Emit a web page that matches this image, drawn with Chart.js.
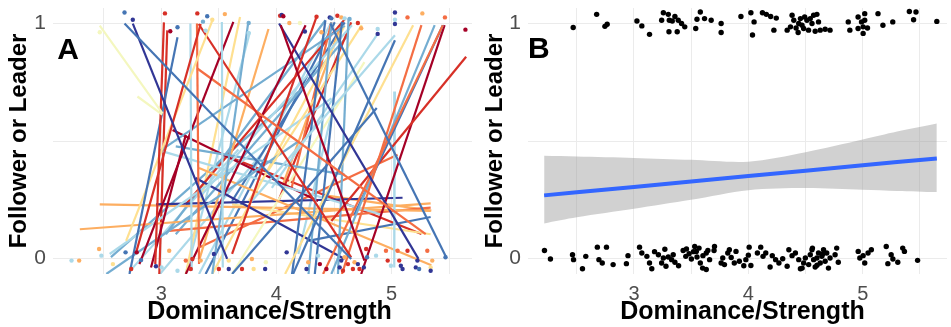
<!DOCTYPE html>
<html>
<head>
<meta charset="utf-8">
<script src="https://cdn.jsdelivr.net/npm/chart.js@4.4.1/dist/chart.umd.min.js"></script>
<style>
  html, body { margin: 0; padding: 0; background: #fff; }
  #wrap { position: relative; width: 951px; height: 327px; }
  #chartA { position: absolute; left: 0; top: 0; }
  #chartB { position: absolute; left: 476px; top: 0; }
</style>
</head>
<body>
<div id="wrap">
  <canvas id="chartA" width="476" height="327"></canvas>
  <canvas id="chartB" width="475" height="327"></canvas>
</div>
<script>
// RdYlBu colours, one per individual group
const palette = ['#a50026', '#d73027', '#f46d43', '#fdae61', '#fee090', '#f4f7bf',
                 '#e0f3f8', '#abd9e9', '#74add1', '#4575b4', '#313695'];

// Panel A: per-individual fitted lines (start x/y, end x/y, group)
const segX1 = [2.466, 2.793, 2.681, 2.753, 3.023, 3.141, 2.782, 2.911, 3.443, 3.310, 3.253, 3.526, 3.325, 3.626, 3.310, 3.756,
               4.037, 4.253, 4.348, 4.023, 4.468, 5.029, 4.871, 5.029, 5.187, 5.259, 5.445, 5.374, 5.445, 5.647, 5.460, 5.029,
               4.425, 4.477, 4.569, 4.626, 4.592, 4.655, 4.741, 4.879, 2.552, 2.523, 3.328, 3.011, 3.126, 3.299, 3.098, 3.443,
               3.615, 3.931, 4.276, 2.954, 2.293, 2.466, 3.069, 3.615, 4.190, 4.132, 3.213, 4.017, 4.046, 3.126, 3.615, 3.328,
               3.052, 3.684, 3.770, 4.425, 4.506, 3.615, 4.454, 3.328, 2.563, 2.721, 2.980];
const segY1 = [0.990, 0.689, 0.999, 0.999, 1.004, 0.941, 0.027, -0.037, 1.011, 0.999, 0.999, 1.006, 0.997, 1.006, 0.809, 1.006,
               0.992, 0.992, 1.027, 0.999, 0.999, 0.928, 0.640, 0.949, 0.992, 0.992, 0.992, 0.992, 0.992, 0.858, 0.992, 0.710,
               1.013, 1.004, 1.006, 1.020, 0.990, 0.992, 0.992, 0.955, 0.020, -0.065, 0.385, 0.456, 0.477, 0.343, 0.547, -0.065,
               -0.065, 0.976, 0.076, 0.231, 0.125, 0.231, 0.118, 0.231, 0.020, 0.301, 0.231, 0.245, 0.301, 0.104, 0.245, -0.065,
               0.970, 1.027, 0.963, 1.013, 1.004, 0.428, 0.267, 0.048, 0.007, -0.056, -0.070];
const segX2 = [3.011, 3.009, 4.649, 3.572, 2.948, 2.724, 3.342, 3.213, 2.695, 3.328, 3.264, 3.534, 4.649, 2.810, 5.296, 3.443,
               4.764, 3.213, 3.615, 5.233, 5.474, 4.132, 3.615, 3.787, 4.075, 4.569, 4.405, 4.477, 4.678, 4.477, 4.736, 5.023,
               4.132, 4.276, 4.333, 4.534, 2.983, 3.328, 3.759, 3.960, 4.477, 4.190, 5.345, 4.908, 4.592, 4.592, 4.362, 4.592,
               4.764, 3.328, 5.339, 5.095, 5.339, 5.339, 5.339, 5.339, 4.477, 4.477, 4.598, 4.649, 4.563, 4.621, 4.592, 4.477,
               2.983, 3.213, 3.213, 3.040, 3.385, 5.259, 5.345, 5.052, 4.190, 3.670, 3.879];
const segY2 = [0.617, 0.612, -0.001, -0.001, -0.023, -0.065, 0.997, 0.526, 0.076, -0.023, -0.051, -0.037, 0.006, -0.023, 0.104, -0.065,
               -0.008, -0.065, 0.020, -0.001, 0.006, -0.079, -0.065, 0.245, -0.065, -0.065, -0.065, -0.065, 0.188, 0.160, -0.065, -0.037,
               -0.079, -0.079, -0.065, -0.065, 0.456, 0.259, 0.245, 0.301, 0.681, 0.498, -0.028, 0.188, 0.357, -0.001, 0.245, 0.990,
               0.835, -0.008, 0.177, 0.259, 0.235, 0.203, 0.217, 0.104, 0.610, 1.004, 1.020, 1.004, 0.997, 0.948, 1.004, 1.004,
               -0.065, -0.065, -0.065, 0.104, -0.065, 0.105, 0.204, 0.442, 0.709, 0.464, 0.450];
const segGroup = [5, 5, 9, 10, 1, 9, 1, 0, 4, 2, 7, 7, 1, 0, 2, 8,
                  0, 0, 1, 10, 9, 9, 9, 7, 4, 2, 2, 8, 9, 1, 0, 7,
                  9, 8, 9, 8, 8, 7, 4, 7, 7, 8, 3, 7, 8, 10, 0, 4,
                  5, 3, 9, 10, 3, 3, 2, 4, 7, 2, 1, 1, 3, 8, 9, 7,
                  1, 4, 7, 8, 9, 1, 3, 2, 8, 7, 7];

// Panel A: observed choices (0 = follower, 1 = leader), jittered
const dotX = [2.681, 2.753, 3.032, 3.078, 3.141, 3.313, 3.399, 3.362, 3.385, 3.552, 3.443, 3.759, 3.759, 4.032, 4.046, 4.060,
              4.112, 4.204, 4.247, 4.348, 4.391, 4.463, 4.477, 4.529, 4.563, 4.592, 4.635, 4.707, 4.736, 4.879, 4.879, 5.029,
              5.029, 5.029, 5.138, 5.267, 5.463, 5.641, 2.466,
              2.221, 2.287, 2.460, 2.480, 2.580, 2.690, 2.739, 2.787, 2.825, 2.954, 3.003, 3.069, 3.141, 3.213, 3.256, 3.270,
              3.342, 3.457, 3.500, 3.586, 3.586, 3.701, 3.787, 3.802, 3.902, 3.908, 4.089, 4.261, 4.276, 4.362, 4.377, 4.434,
              4.549, 4.563, 4.578, 4.592, 4.621, 4.664, 4.678, 4.707, 4.721, 4.759, 4.779, 4.787, 4.865, 4.951, 4.966, 4.994,
              5.052, 5.066, 5.080, 5.095, 5.138, 5.210, 5.224, 5.239, 5.310, 5.339, 5.353, 5.339, 5.468];
const dotY = [1.046, 1.015, 1.042, 0.966, 0.983, 1.042, 1.030, 1.007, 0.969, 1.039, 1.015, 1.001, 0.959, 1.032, 1.035, 1.030,
              1.001, 1.001, 0.965, 1.028, 0.962, 1.025, 1.021, 1.032, 1.025, 1.021, 1.018, 1.001, 0.979, 0.976, 0.955, 1.046,
              1.015, 0.997, 1.025, 1.042, 1.025, 0.973, 0.962,
              -0.008, -0.008, 0.041, 0.013, -0.023, 0.027, -0.044, 0.027, -0.006, -0.032, -0.037, 0.034, -0.051, -0.008, -0.044, -0.001,
              -0.008, 0.020, -0.044, -0.008, -0.044, -0.044, -0.001, -0.044, -0.044, -0.015, 0.027, -0.044, -0.015, 0.013, -0.023, -0.044,
              -0.037, -0.008, -0.051, 0.006, -0.023, -0.044, -0.015, -0.023, -0.044, -0.037, 0.041, 0.006, 0.013, 0.034, -0.008, -0.030,
              0.034, -0.008, -0.030, -0.044, 0.034, -0.037, -0.008, -0.044, 0.034, -0.037, -0.008, -0.051, 0.006];
const dotGroup = [9, 10, 1, 0, 9, 1, 9, 8, 7, 3, 4, 8, 7, 1, 10, 0,
                  3, 5, 10, 1, 3, 10, 9, 1, 3, 7, 8, 1, 3, 7, 10, 10,
                  7, 10, 2, 3, 2, 0, 5,
                  7, 3, 3, 7, 4, 9, 1, 0, 9, 10, 7, 3, 7, 2, 1, 1,
                  3, 10, 1, 4, 10, 1, 3, 4, 10, 5, 10, 10, 3, 7, 0, 0,
                  10, 10, 1, 3, 1, 1, 3, 10, 1, 10, 1, 9, 7, 2, 1, 7,
                  2, 1, 10, 10, 1, 10, 10, 9, 2, 4, 3, 10, 9];

// Panel B: pooled observations
const leaderX = [2.469, 2.674, 2.746, 2.766, 3.026, 3.069, 3.136, 3.257, 3.300, 3.242, 3.309, 3.335, 3.358, 3.387, 3.416, 3.444,
                 3.306, 3.378, 3.540, 3.551, 3.580, 3.617, 3.675, 3.762, 3.762, 3.935, 4.022, 4.050, 4.036, 4.123, 4.157, 4.195,
                 4.244, 4.223, 4.382, 4.397, 4.368, 4.339, 4.417, 4.435, 4.455, 4.492, 4.512, 4.541, 4.570, 4.599, 4.556, 4.483,
                 4.526, 4.584, 4.613, 4.628, 4.671, 4.714, 4.440, 4.469, 4.873, 4.887, 4.959, 4.989, 5.003, 5.017, 5.017, 4.959,
                 5.003, 5.041, 5.133, 5.176, 5.262, 5.407, 5.465, 5.444, 5.647];
const leaderY = [0.982, 1.038, 0.987, 0.996, 1.010, 0.989, 0.953, 1.045, 1.038, 1.013, 1.013, 1.010, 1.029, 1.013, 0.999, 0.985,
                 0.964, 0.964, 0.978, 1.017, 1.048, 1.020, 1.013, 0.999, 0.961, 1.029, 1.045, 1.006, 0.950, 1.045, 1.038, 1.029,
                 1.022, 0.971, 1.034, 1.013, 0.985, 0.971, 0.980, 0.961, 1.020, 1.027, 1.013, 1.020, 1.034, 1.038, 0.999, 0.978,
                 0.971, 0.966, 1.006, 0.971, 0.975, 0.971, 0.999, 0.992, 1.006, 0.971, 1.027, 1.006, 0.985, 1.041, 1.013, 0.978,
                 0.957, 0.980, 1.041, 0.992, 1.006, 1.050, 1.048, 1.015, 1.008];
const followerX = [2.218, 2.270, 2.463, 2.472, 2.550, 2.579, 2.680, 2.694, 2.723, 2.760, 2.818, 2.934, 2.948, 3.049, 3.069, 3.113,
                   3.136, 3.156, 3.214, 3.242, 3.257, 3.280, 3.300, 3.329, 3.343, 3.358, 3.430, 3.453, 3.459, 3.482, 3.502, 3.531,
                   3.545, 3.551, 3.569, 3.580, 3.603, 3.632, 3.646, 3.632, 3.661, 3.704, 3.762, 3.776, 3.791, 3.820, 3.834, 3.877,
                   3.892, 3.921, 3.978, 4.007, 4.022, 4.079, 4.108, 4.128, 4.152, 4.209, 4.238, 4.267, 4.339, 4.354, 4.382, 4.411,
                   4.440, 4.455, 4.483, 4.498, 4.527, 4.541, 4.556, 4.570, 4.584, 4.599, 4.613, 4.628, 4.642, 4.657, 4.671, 4.685,
                   4.714, 4.758, 4.772, 4.786, 4.960, 4.974, 5.003, 5.017, 5.046, 5.075, 5.205, 5.219, 5.248, 5.263, 5.306, 5.349,
                   5.364, 5.479,
                   3.390, 3.520, 3.600, 3.700, 3.850, 4.000, 4.190, 4.300, 4.470, 4.600, 4.650, 4.700, 3.180, 3.270, 3.960, 4.560];
const followerY = [0.035, -0.001, 0.017, -0.004, -0.043, 0.010, 0.049, -0.004, -0.018, 0.049, -0.025, -0.021, 0.013, 0.049, 0.024, 0.010,
                   -0.018, -0.043, 0.017, -0.018, 0.003, -0.032, 0.007, -0.004, 0.017, -0.015, 0.035, 0.010, 0.041, 0.021, -0.001, 0.052,
                   0.031, 0.007, 0.045, -0.018, 0.013, 0.024, 0.035, -0.046, -0.004, 0.052, -0.018, 0.003, -0.025, 0.024, 0.038, -0.018,
                   0.031, -0.011, -0.004, 0.049, -0.029, 0.024, 0.049, 0.010, 0.024, 0.013, -0.004, -0.018, -0.032, 0.038, 0.013, 0.024,
                   -0.004, -0.043, -0.018, 0.003, -0.025, 0.017, 0.038, -0.004, -0.035, 0.003, 0.024, -0.018, 0.010, 0.038, -0.011, 0.024,
                   0.003, 0.017, 0.045, -0.015, 0.031, 0.003, 0.013, -0.018, 0.024, 0.038, 0.052, -0.021, 0.017, -0.001, -0.015, 0.045,
                   0.031, -0.007,
                   -0.030, 0.030, -0.040, 0.035, 0.005, 0.015, -0.035, 0.000, -0.040, -0.028, 0.020, -0.040, 0.030, 0.040, -0.030, 0.045];

// Panel B: fitted probability and confidence band
const fitX   = [2.215, 2.5, 3.0, 3.5, 4.0, 4.5, 5.0, 5.3, 5.647];
const fitY   = [0.269, 0.282, 0.305, 0.328, 0.351, 0.374, 0.397, 0.411, 0.426];
const ciHigh = [0.437, 0.434, 0.428, 0.420, 0.412, 0.452, 0.506, 0.540, 0.574];
const ciLow  = [0.150, 0.176, 0.212, 0.250, 0.291, 0.300, 0.293, 0.288, 0.283];

const family = '"Liberation Sans", Arial, Helvetica, sans-serif';
const pts = (xs, ys) => xs.map((x, i) => ({ x: x, y: ys[i] }));

// panel letter and x-axis title, drawn on the canvas
const panelText = {
  id: 'panelText',
  afterDraw(chart, args, opts) {
    const { ctx, scales, chartArea } = chart;
    ctx.save();
    ctx.fillStyle = '#000';
    ctx.textAlign = 'center';
    ctx.textBaseline = 'middle';
    ctx.font = 'bold 30px ' + family;
    ctx.fillText(opts.letter, scales.x.getPixelForValue(opts.x), scales.y.getPixelForValue(opts.y));
    ctx.font = 'bold 25px ' + family;
    ctx.fillText('Dominance/Strength', (chartArea.left + chartArea.right) / 2 + opts.titleShift, 312);
    ctx.restore();
  }
};

function makeScales(xMin, xMax, yWidth) {
  return {
    x: {
      type: 'linear', min: xMin, max: xMax,
      border: { display: false },
      grid: { color: '#ebebeb', lineWidth: 1, drawTicks: false },
      ticks: {
        stepSize: 0.5, includeBounds: false, autoSkip: false, maxRotation: 0, padding: 8,
        color: '#4d4d4d', font: { family: family, size: 20 },
        callback: v => Number.isInteger(v) ? String(v) : ''
      },
      afterFit: s => { s.height = 53; s.paddingLeft = 0; s.paddingRight = 0; }
    },
    y: {
      type: 'linear', min: -0.065, max: 1.065,
      border: { display: false },
      grid: { color: '#ebebeb', lineWidth: 1, drawTicks: false },
      ticks: {
        stepSize: 0.5, includeBounds: false, autoSkip: false, padding: 7,
        color: '#4d4d4d', font: { family: family, size: 21 },
        callback: v => Number.isInteger(v) ? String(v) : ''
      },
      title: {
        display: true, text: 'Follower or Leader', color: '#000',
        font: { family: family, size: 24, weight: 'bold', lineHeight: 1.2 },
        padding: { top: 5, bottom: 0 }
      },
      afterFit: s => { s.width = yWidth; s.paddingTop = 0; s.paddingBottom = 0; }
    }
  };
}

const common = {
  responsive: false,
  animation: false,
  events: [],
  plugins: { legend: { display: false }, tooltip: { enabled: false } }
};

// Panel A
const segSets = segX1.map((x1, i) => ({
  data: [{ x: x1, y: segY1[i] }, { x: segX2[i], y: segY2[i] }],
  showLine: true, borderColor: palette[segGroup[i]], borderWidth: 2.2,
  pointRadius: 0, tension: 0, fill: false, order: 1
}));

new Chart(document.getElementById('chartA'), {
  type: 'scatter',
  data: {
    datasets: segSets.concat([{
      data: pts(dotX, dotY),
      backgroundColor: dotGroup.map(g => palette[g]),
      borderWidth: 0, pointRadius: 2.2, order: 0
    }])
  },
  options: Object.assign({}, common, {
    layout: { padding: { top: 8, right: 1, bottom: 0, left: 0 } },
    scales: makeScales(2.06, 5.698, 53),
    plugins: Object.assign({}, common.plugins, { panelText: { letter: 'A', x: 2.19, y: 0.882, titleShift: 7 } })
  }),
  plugins: [panelText]
});

// Panel B
new Chart(document.getElementById('chartB'), {
  type: 'scatter',
  data: {
    datasets: [
      { data: pts(fitX, ciHigh), showLine: true, borderWidth: 0, pointRadius: 0, tension: 0.3,
        fill: '+1', backgroundColor: 'rgba(153,153,153,0.45)', order: 3 },
      { data: pts(fitX, ciLow), showLine: true, borderWidth: 0, pointRadius: 0, tension: 0.3, order: 3 },
      { data: pts(fitX, fitY), showLine: true, borderColor: '#3366ff', borderWidth: 4,
        pointRadius: 0, tension: 0, order: 2 },
      { data: pts(leaderX, leaderY), backgroundColor: '#000', borderWidth: 0, pointRadius: 2.7, order: 1 },
      { data: pts(followerX, followerY), backgroundColor: '#000', borderWidth: 0, pointRadius: 2.7, order: 1 }
    ]
  },
  options: Object.assign({}, common, {
    layout: { padding: { top: 8, right: 0, bottom: 0, left: 0 } },
    scales: makeScales(2.074, 5.736, 52),
    plugins: Object.assign({}, common.plugins, { panelText: { letter: 'B', x: 2.169, y: 0.887, titleShift: 5 } })
  }),
  plugins: [panelText]
});
</script>
</body>
</html>
